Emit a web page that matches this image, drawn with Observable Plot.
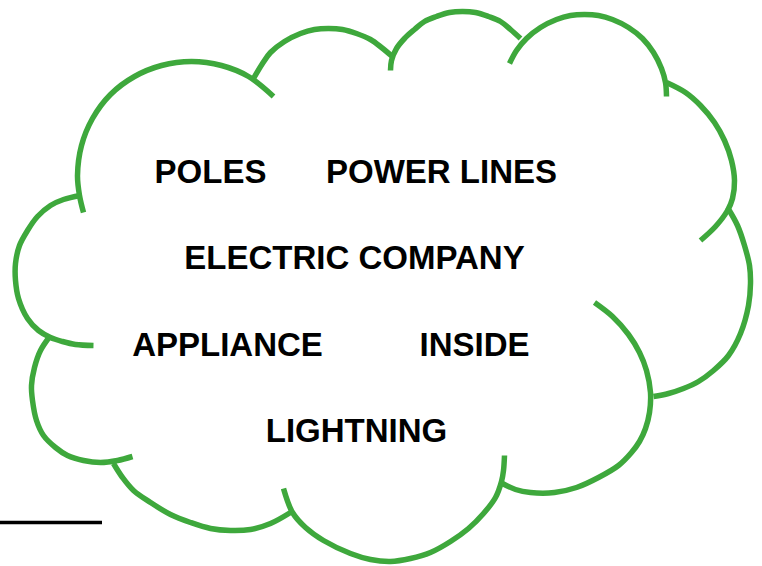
<!DOCTYPE html>
<html>
<head>
<meta charset="utf-8">
<script src="https://cdn.jsdelivr.net/npm/d3@7"></script>
<script src="https://cdn.jsdelivr.net/npm/@observablehq/plot@0.6"></script>
<style>
  html, body { margin: 0; padding: 0; background: #fff; overflow: hidden; }
  #chart svg { display: block; }
</style>
</head>
<body>
<div id="chart"></div>
<script>
// Cloud outline: each bump of the cloud as points (pixel coords, y down)
const arcA = [[83,212],[79,195],[77,175],[81,145],[92,118],[110,94],[134,76],[161,65],[191,61],[221,65],[248,76],[273,96]];
const arcB = [[253,78],[262,63],[270,52],[284,41],[300,33],[314,29],[328,28],[342,29],[356,33],[370,39],[381,47],[393,57]];
const arcC = [[390,70],[391,60],[396,48],[404,38],[414,29],[424,21],[436,16],[449,12],[462,11],[475,12],[488,16],[500,21],[510,29],[520,38]];
const arcD = [[509,63],[516,50],[526,38],[540,27],[556,19],[570,15],[584,14],[598,15],[612,19],[628,27],[642,38],[653,52],[661,68],[665,82],[666,96]];
const arcE = [[666,82],[685,92],[700,105],[714,122],[724,140],[731,160],[734,180],[732,198],[727,210],[715,226],[700,240]];
const arcF = [[727,207],[737,225],[744,245],[749,265],[750,283],[748,305],[740,333],[728,355],[713,370],[698,381],[683,388],[668,393],[653,396]];
const arcG = [[594,302],[612,316],[628,334],[639,352],[646,370],[650,392],[649,412],[645,428],[639,441],[631,452],[618,465],[598,477],[576,487],[554,492],[530,492],[515,489],[502,483]];
const arcH = [[504,455],[503,470],[501,481],[495,497],[483,513],[468,528],[450,541],[430,552],[410,558],[390,561],[370,559],[350,553],[323,540],[305,527],[292,512],[283,488]];
const arcI = [[113,463],[122,477],[133,490],[150,502],[170,514],[190,522],[210,528],[230,530],[250,529],[270,523],[290,512]];
const arcJ = [[50,335],[40,350],[34,367],[31,385],[32,400],[36,420],[43,435],[55,447],[67,455],[83,460],[100,462],[117,460],[132,456]];
const arcK = [[80,195],[63,199],[50,205],[37,216],[27,230],[19,245],[15,263],[15,280],[18,298],[27,318],[38,330],[50,337],[62,341],[75,344],[93,345]];

const arcs = {arcA, arcB, arcC, arcD, arcE, arcF, arcG, arcH, arcI, arcJ, arcK};

// Words inside the cloud: label, centre x, baseline y
const labels = ["POLES", "POWER LINES", "ELECTRIC COMPANY", "APPLIANCE", "INSIDE", "LIGHTNING"];
const labelX = [210, 441, 354, 227, 474, 356];
const labelY = [182, 182, 268, 355, 355, 441];

// Short black rule at bottom left
const ruleData = [{y: 522, x1: 0, x2: 102}];

const cloud = Object.entries(arcs).flatMap(([name, pts]) => pts.map(([x, y]) => ({arc: name, x, y})));
const words = labels.map((t, i) => ({text: t, x: labelX[i], y: labelY[i]}));

const chart = Plot.plot({
  width: 762,
  height: 566,
  margin: 0,
  x: {domain: [0, 762], axis: null},
  y: {domain: [566, 0], axis: null},
  style: {background: "#ffffff"},
  marks: [
    Plot.line(cloud, {x: "x", y: "y", z: "arc", curve: "catmull-rom", stroke: "#3ea83c", strokeWidth: 5.5, strokeLinecap: "butt", strokeLinejoin: "round"}),
    Plot.ruleY(ruleData, {y: "y", x1: "x1", x2: "x2", stroke: "#000", strokeWidth: 3.5}),
    Plot.text(words, {x: "x", y: "y", text: "text", textAnchor: "middle", lineAnchor: "bottom", fontSize: 33, fontWeight: "bold", fontFamily: "'Liberation Sans', Arial, sans-serif", fill: "#000"})
  ]
});
document.getElementById("chart").appendChild(chart);
</script>
</body>
</html>
